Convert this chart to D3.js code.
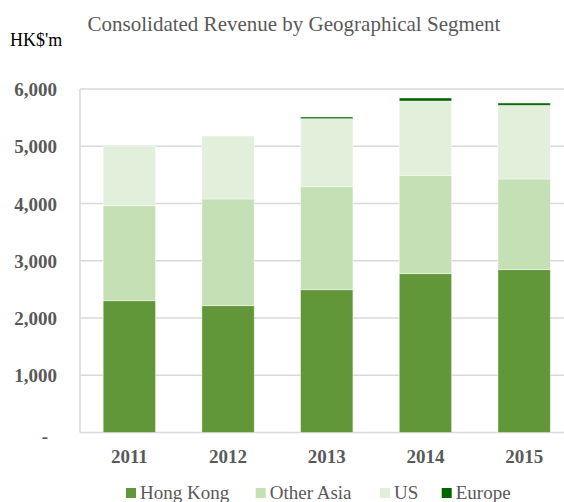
<!DOCTYPE html>
<html>
<head>
<meta charset="utf-8">
<script src="https://cdn.jsdelivr.net/npm/d3@7"></script>
<style>
  body { margin: 0; background: #fff; }
  svg { display: block; font-family: "Liberation Serif", "Times New Roman", serif; }
</style>
</head>
<body>
<script>
// data (HK$ million)
var years = ['2011', '2012', '2013', '2014', '2015'];
var hongKong  = [2302, 2215, 2494, 2774, 2844];
var otherAsia = [1660, 1864, 1800, 1718, 1584];
var us        = [1038, 1100, 1188, 1298, 1287];
var europe    = [0, 0, 29, 53, 40];
var seriesNames = ['Hong Kong', 'Other Asia', 'US', 'Europe'];
var yTicks = [0, 1000, 2000, 3000, 4000, 5000, 6000];

var WIDTH = 564, HEIGHT = 502;
var colors = ['#619639', '#c5e0b4', '#e2efda', '#006600'];

var rows = years.map(function(y, i) {
  return { year: y, 'Hong Kong': hongKong[i], 'Other Asia': otherAsia[i], 'US': us[i], 'Europe': europe[i] };
});

var svg = d3.select('body').append('svg')
  .attr('width', WIDTH)
  .attr('height', HEIGHT);

var x = d3.scaleBand()
  .domain(years)
  .range([80, 573.5])
  .paddingInner(0.47)
  .paddingOuter(0.235);

var y = d3.scaleLinear()
  .domain([0, 6000])
  .range([432.5, 89]);

// gridlines
svg.append('g').selectAll('line')
  .data(yTicks)
  .enter().append('line')
  .attr('x1', 80).attr('x2', WIDTH)
  .attr('y1', function(d) { return y(d); })
  .attr('y2', function(d) { return y(d); })
  .attr('stroke', '#d9d9d9')
  .attr('stroke-width', 1.5);

svg.append('line')
  .attr('x1', 80).attr('x2', 80)
  .attr('y1', y(6000)).attr('y2', y(0))
  .attr('stroke', '#d9d9d9')
  .attr('stroke-width', 1.5);

// stacked bars
var stack = d3.stack().keys(seriesNames)(rows);

svg.append('g').selectAll('g')
  .data(stack)
  .enter().append('g')
  .attr('fill', function(d, i) { return colors[i]; })
  .selectAll('rect')
  .data(function(d) { return d; })
  .enter().append('rect')
  .attr('x', function(d) { return x(d.data.year); })
  .attr('width', x.bandwidth())
  .attr('y', function(d) { return y(d[1]); })
  .attr('height', function(d) { return y(d[0]) - y(d[1]); })
  .attr('stroke', 'rgba(255,255,255,0.5)')
  .attr('stroke-width', function(d) { return d[1] - d[0] > 0 ? 0.8 : 0; });

// y axis labels
var yAxis = d3.axisLeft(y)
  .tickValues(yTicks)
  .tickSize(0)
  .tickPadding(0)
  .tickFormat(function(d) { return d === 0 ? '-' : d3.format(',')(d); });

var gy = svg.append('g')
  .attr('transform', 'translate(57,0)')
  .call(yAxis);
gy.select('.domain').remove();
gy.selectAll('text')
  .attr('font-family', '"Liberation Serif", serif')
  .attr('font-size', 19)
  .attr('font-weight', 'bold')
  .attr('fill', '#595959')
  .attr('dy', '0.35em');
gy.selectAll('.tick').filter(function(d) { return d === 0; }).select('text')
  .attr('x', -9).attr('dy', '0.55em');

// x axis labels
var xAxis = d3.axisBottom(x).tickSize(0).tickPadding(0);
var gx = svg.append('g')
  .attr('transform', 'translate(0,463)')
  .call(xAxis);
gx.select('.domain').remove();
gx.selectAll('text')
  .attr('font-family', '"Liberation Serif", serif')
  .attr('font-size', 19)
  .attr('font-weight', 'bold')
  .attr('fill', '#595959')
  .attr('dy', 0);

// title and unit
svg.append('text')
  .attr('x', 294).attr('y', 31)
  .attr('text-anchor', 'middle')
  .attr('font-size', 21)
  .attr('fill', '#595959')
  .text('Consolidated Revenue by Geographical Segment');

svg.append('text')
  .attr('x', 10).attr('y', 46)
  .attr('font-size', 18)
  .attr('fill', '#000')
  .text("HK$'m");

// legend
var legendX = [126, 255.7, 380, 441.7];
var legend = svg.append('g').selectAll('g')
  .data(seriesNames)
  .enter().append('g')
  .attr('transform', function(d, i) { return 'translate(' + legendX[i] + ',488)'; });
legend.append('rect')
  .attr('width', 10).attr('height', 10)
  .attr('fill', function(d, i) { return colors[i]; });
legend.append('text')
  .attr('x', 14).attr('y', 11)
  .attr('font-size', 19)
  .attr('fill', '#595959')
  .text(function(d) { return d; });
</script>
</body>
</html>
